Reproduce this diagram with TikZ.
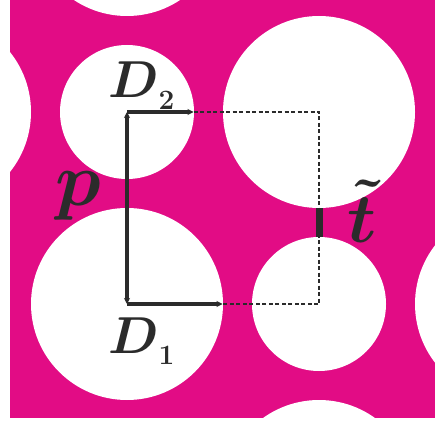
\RequirePackage{fix-cm}
\documentclass[tikz,border=0pt]{standalone}
\usepackage{amsmath}
\usepackage{amssymb}
\usetikzlibrary{arrows.meta}
\DeclareMathSizes{52}{52}{28}{20}
\DeclareMathSizes{76}{76}{53}{38}
\DeclareMathSizes{70}{70}{49}{35}
\definecolor{cpink}{HTML}{E20C85}
\definecolor{cdark}{HTML}{2B2B2B}
\newcommand{\lowsub}[1]{_{\raisebox{-4pt}{$\scriptstyle\boldsymbol{#1}$}}}

\begin{document}
\begin{tikzpicture}[x=1pt, y=-1pt,
  hole/.style={fill=white},
  dim/.style={cdark, line width=3.2pt},
  guide/.style={cdark, line width=1.4pt, dash pattern=on 4pt off 2.5pt},
  lbl/.style={cdark, inner sep=0pt, anchor=base west}]
  \useasboundingbox (0,0) rectangle (441,422);
  % Plate
  \fill[cpink] (10,0) rectangle (435,418);
  \begin{scope}
    \clip (10,0) rectangle (435,418);
    % large holes
    \foreach \x/\y in {127/-80, 127/304, 319/112, -65/112, 511/304, 319/496}{
      \fill[hole] (\x,\y) circle[radius=96];
    }
    % small holes
    \foreach \x/\y in {127/112, 319/304}{
      \fill[hole] (\x,\y) circle[radius=67];
    }
  \end{scope}

  % Centres and edges
  \coordinate (D2) at (127,112);
  \coordinate (D1) at (127,304);
  \coordinate (e2) at (193.5,112);
  \coordinate (e1) at (222.5,304);
  \coordinate (q2) at (319,112);
  \coordinate (q1) at (319,304);
  \coordinate (g2) at (319,208);
  \coordinate (g1) at (319,237);

  % Dimension lines
  \draw[guide] (e2) -- (q2) -- (q1) -- (e1);
  \draw[dim, -{Stealth[length=6pt,width=6pt]}] (D2) -- (e2);
  \draw[dim, -{Stealth[length=6pt,width=6pt]}] (D1) -- (e1);
  \draw[dim, {Stealth[length=6pt,width=6pt]}-{Stealth[length=6pt,width=6pt]}] (D1) -- (D2);
  \draw[cdark, line width=7pt] (g2) -- (g1);

  % Labels
  \node[lbl, font=\fontsize{52}{60}\selectfont] (labD2) at (108,98) {$\boldsymbol{D}\lowsub{2}$};
  \node[lbl, font=\fontsize{52}{60}\selectfont] (labD1) at (108,353) {$\boldsymbol{D}\lowsub{1}$};
  \node[lbl, font=\fontsize{76}{86}\selectfont] (labp) at (55,205) {$\boldsymbol{p}$};
  \node[lbl, font=\fontsize{70}{80}\selectfont] (labt) at (347,242) {$\boldsymbol{\tilde{t}}$};
\end{tikzpicture}
\end{document}
